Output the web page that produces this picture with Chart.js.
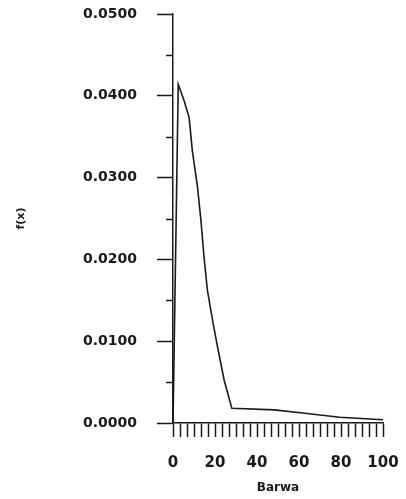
<!DOCTYPE html>
<html>
<head>
<meta charset="utf-8">
<script src="https://cdn.jsdelivr.net/npm/chart.js@4"></script>
<style>
  html, body { margin: 0; padding: 0; background: #fff; }
  #wrap { width: 406px; height: 499px; }
</style>
</head>
<body>
<div id="wrap"><canvas id="chart" width="406" height="499"></canvas></div>
<script>
// values
const hueValues = [0, 2.5, 5.3, 7.7, 9.2, 11.6, 13.3, 14.8, 16.4, 18.8, 21.2, 24.4, 28.0, 48.3, 62.7, 79.4, 100];
const densityValues = [0.0000, 0.0414, 0.0394, 0.0373, 0.0333, 0.0290, 0.0248, 0.0202, 0.0162, 0.0126, 0.0093, 0.0052, 0.0018, 0.0016, 0.0012, 0.0007, 0.0004];
const xLabelValues = [0, 20, 40, 60, 80, 100];
const yMinorValues = [0.005, 0.015, 0.025, 0.035, 0.045];

const points = hueValues.map((x, i) => ({ x: x, y: densityValues[i] }));
const ink = '#1a1a1a';
const fontFamily = '"DejaVu Sans", "Liberation Sans", Arial, sans-serif';

// short minor ticks on the y axis
const minorTicks = {
    id: 'minorTicks',
    afterDraw(chart) {
        const y = chart.scales.y;
        const ctx = chart.ctx;
        ctx.save();
        ctx.strokeStyle = ink;
        ctx.lineWidth = 1.5;
        yMinorValues.forEach(v => {
            const py = Math.round(y.getPixelForValue(v)) + 0.5;
            ctx.beginPath();
            ctx.moveTo(y.right - 7, py);
            ctx.lineTo(y.right, py);
            ctx.stroke();
        });
        ctx.restore();
    }
};

const isLabel = (v, list) => list.some(l => Math.abs(l - v) < 1e-6);

new Chart(document.getElementById('chart'), {
    type: 'line',
    data: {
        datasets: [{
            data: points,
            borderColor: ink,
            borderWidth: 1.6,
            pointRadius: 0,
            tension: 0,
            fill: false
        }]
    },
    options: {
        responsive: false,
        animation: false,
        layout: { padding: { top: 14, right: 23, bottom: 0, left: 0 } },
        plugins: { legend: { display: false }, tooltip: { enabled: false } },
        scales: {
            x: {
                type: 'linear',
                min: 0,
                max: 100,
                afterFit: s => { s.height = 76; s.paddingLeft = 0; s.paddingRight = 0; },
                border: { color: ink, width: 1.5 },
                grid: { drawOnChartArea: false, tickLength: 14, tickColor: ink, tickWidth: 1.5 },
                ticks: {
                    stepSize: 10 / 3,
                    autoSkip: false,
                    maxRotation: 0,
                    padding: 17,
                    color: ink,
                    font: { family: fontFamily, size: 15, weight: 'bold' },
                    callback: v => isLabel(v, xLabelValues) ? String(Math.round(v)) : ''
                },
                title: {
                    display: true,
                    text: 'Barwa',
                    color: ink,
                    padding: { top: 0, bottom: 4 },
                    font: { family: fontFamily, size: 12, weight: 'bold' }
                }
            },
            y: {
                min: 0,
                max: 0.05,
                afterFit: s => { s.width = 173; s.paddingTop = 0; s.paddingBottom = 0; },
                border: { color: ink, width: 1.5 },
                grid: { drawOnChartArea: false, tickLength: 16, tickColor: ink, tickWidth: 1.5 },
                ticks: {
                    stepSize: 0.01,
                    padding: 20,
                    color: ink,
                    font: { family: fontFamily, size: 14, weight: 'bold' },
                    callback: v => v.toFixed(4)
                },
                title: {
                    display: true,
                    text: 'f(x)',
                    color: ink,
                    padding: { top: 15, bottom: 0 },
                    font: { family: fontFamily, size: 11, weight: 'bold' }
                }
            }
        }
    },
    plugins: [minorTicks]
});
</script>
</body>
</html>
